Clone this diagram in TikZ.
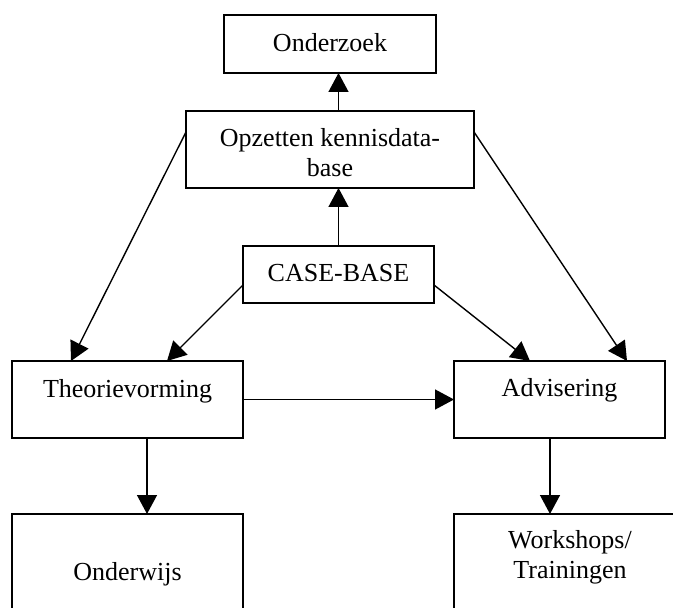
\documentclass[tikz,border=0pt]{standalone}
\usepackage{fontspec}
\setmainfont{Liberation Serif}
\usetikzlibrary{arrows.meta}

\def\dgmRule{0.75pt}
\def\dgmArrowRule{0.7pt}

\tikzset{
  blok/.style = {draw, line width = \dgmRule, anchor = base,
    inner sep = 0pt, outer sep = 0pt,
    font = \fontsize{13}{15}\selectfont},
  pijl/.style = {line width = \dgmArrowRule,
    -{Triangle[length = 9.5pt, width = 10pt]}},
}

\begin{document}
\begin{tikzpicture}[x = 0.5pt, y = -0.5pt]
            \useasboundingbox (0,0) rectangle (673,608);
            \clip (0,0) rectangle (673,608);
            %% top row
            \node [blok, minimum width = 106pt, text height = 18.5pt, text depth = 10.5pt]
            (onderzoek) at (330,52) {Onderzoek};
            \node [blok, minimum width = 144pt, text height = 18pt, text depth = 20.5pt]
            (kennisdb) at (330,147)
            {\begin{tabular}[t]{@{}c@{}}Opzetten kennisdata-\\base\end{tabular}};
            \node [blok, minimum width = 95.5pt, text height = 18pt, text depth = 10.5pt]
            (casebase) at (338.5,282) {CASE-BASE};
            %% middle row
            \node [blok, minimum width = 115.5pt, text height = 18pt, text depth = 20.5pt]
            (theorie) at (127.5,397) {Theorievorming};
            \node [blok, minimum width = 105.5pt, text height = 17.5pt, text depth = 21pt]
            (advies) at (559.5,396) {Advisering};
            %% bottom row
            \node [blok, minimum width = 115.5pt, text height = 33pt, text depth = 30pt]
            (onderwijs) at (127.5,580) {Onderwijs};
            \node [blok, minimum width = 116pt, text height = 17pt, text depth = 50pt]
            (workshops) at (570,548)
            {\begin{tabular}[t]{@{}c@{}}Workshops/\\Trainingen\end{tabular}};
            %% connectors
            \draw [pijl] (kennisdb.north -| casebase) -- (onderzoek.south -| casebase);
            \draw [pijl] (casebase.north) -- (casebase.north |- kennisdb.south);
            \draw [pijl] ([yshift = -10.5pt]kennisdb.north west)
            -- ([xshift = 29.5pt]theorie.north west);
            \draw [pijl] ([yshift = -10.5pt]kennisdb.north east)
            -- ([xshift = -19pt]advies.north east);
            \draw [pijl] ([yshift = -19.5pt]casebase.north west)
            -- ([xshift = -38pt]theorie.north east);
            \draw [pijl] ([yshift = -19.5pt]casebase.north east)
            -- ([xshift = 38pt]advies.north west);
            \draw [pijl] (theorie.east) -- (theorie.east -| advies.west);
            \draw [pijl] ([xshift = 9.75pt]theorie.south)
            -- ([xshift = 9.75pt]theorie.south |- onderwijs.north);
            \draw [pijl] ([xshift = -4.75pt]advies.south)
            -- ([xshift = -4.75pt]advies.south |- workshops.north);
\end{tikzpicture}
\end{document}
